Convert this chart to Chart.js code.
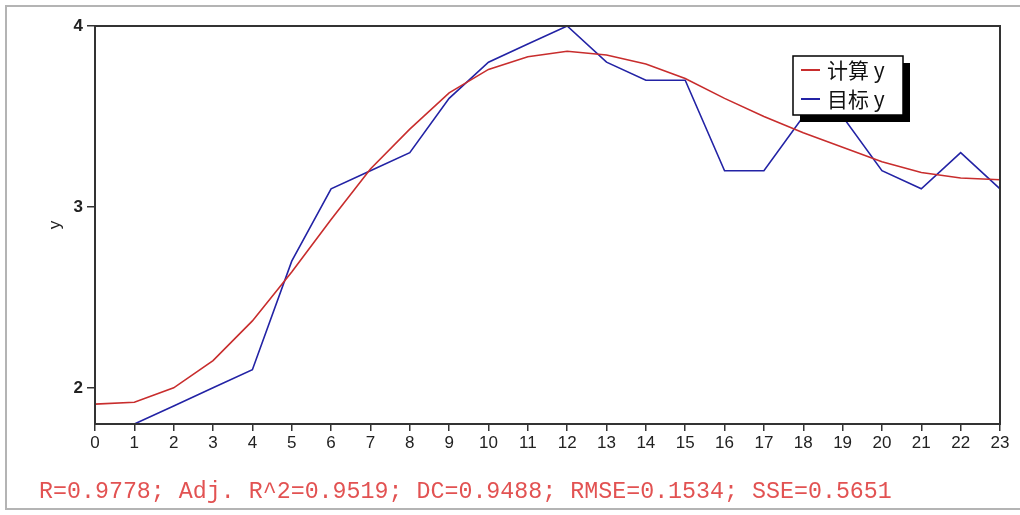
<!DOCTYPE html>
<html>
<head>
<meta charset="utf-8">
<script src="https://cdn.jsdelivr.net/npm/chart.js@4.4.1/dist/chart.umd.min.js"></script>
<style>
	html, body { margin: 0; padding: 0; background: #fff; }
	#wrap { position: relative; width: 1020px; height: 515px; }
	#frame { position: absolute; left: 5px; top: 5px; width: 1030px; height: 505px; border: 2px solid #b4b4b4; box-sizing: border-box; }
	canvas { position: absolute; left: 0; top: 0; }
</style>
</head>
<body>
<div id="wrap">
	<div id="frame"></div>
	<canvas id="c" width="1020" height="515"></canvas>
</div>
<script>
const xLabels = ['0','1','2','3','4','5','6','7','8','9','10','11','12','13','14','15','16','17','18','19','20','21','22','23'];
const calcY = [1.91, 1.92, 2.00, 2.15, 2.37, 2.64, 2.93, 3.21, 3.43, 3.63, 3.76, 3.83, 3.86, 3.84, 3.79, 3.71, 3.60, 3.50, 3.41, 3.33, 3.25, 3.19, 3.16, 3.15];
const targetY = [1.7, 1.8, 1.9, 2.0, 2.1, 2.7, 3.1, 3.2, 3.3, 3.6, 3.8, 3.9, 4.0, 3.8, 3.7, 3.7, 3.2, 3.2, 3.5, 3.5, 3.2, 3.1, 3.3, 3.1];
const yTicks = [2, 3, 4];
const statsText = 'R=0.9778; Adj. R^2=0.9519; DC=0.9488; RMSE=0.1534; SSE=0.5651';

// box round the plot, the boxed legend with its shadow, and the red stats line
const extras = {
	id: 'extras',
	afterDraw (chart)
	{
		const ctx = chart.ctx;
		const a = chart.chartArea;
		ctx.save();
		ctx.strokeStyle = '#333';
		ctx.lineWidth = 2;
		ctx.strokeRect(a.left, a.top, a.right - a.left, a.bottom - a.top);

		// legend
		const bx = 793, by = 56, bw = 110, bh = 59;
		ctx.fillStyle = '#000';
		ctx.fillRect(bx + 7, by + 7, bw, bh);
		ctx.fillStyle = '#fff';
		ctx.fillRect(bx, by, bw, bh);
		ctx.strokeStyle = '#000';
		ctx.lineWidth = 1.5;
		ctx.strokeRect(bx, by, bw, bh);
		ctx.font = '21px "Noto Sans CJK SC"';
		ctx.textBaseline = 'middle';
		chart.data.datasets.forEach((ds, i) => {
			const ry = by + 14 + i * 29;
			ctx.strokeStyle = ds.borderColor;
			ctx.lineWidth = 2;
			ctx.beginPath();
			ctx.moveTo(bx + 8, ry);
			ctx.lineTo(bx + 27, ry);
			ctx.stroke();
			ctx.fillStyle = '#111';
			ctx.fillText(ds.label, bx + 34, ry);
		});

		ctx.font = '23.3px "Liberation Mono"';
		ctx.fillStyle = '#e25252';
		ctx.textBaseline = 'alphabetic';
		ctx.fillText(statsText, 39, 498);
		ctx.restore();
	}
};

const ctx = document.getElementById('c').getContext('2d');
new Chart(ctx, {
	type: 'line',
	data: {
		labels: xLabels,
		datasets: [
			{
				label: '计算 y',
				data: calcY,
				borderColor: 'rgb(200,45,45)',
				borderWidth: 1.6,
				pointRadius: 0,
				tension: 0,
				fill: false
			},
			{
				label: '目标 y',
				data: targetY,
				borderColor: 'rgb(35,35,165)',
				borderWidth: 1.6,
				pointRadius: 0,
				tension: 0,
				fill: false
			}
		]
	},
	options: {
		responsive: false,
		animation: false,
		layout: { padding: { left: 40, top: 26, right: 20, bottom: 0 } },
		plugins: {
			legend: { display: false },
			tooltip: { enabled: false }
		},
		scales: {
			x: {
				offset: false,
				grid: { drawOnChartArea: false, drawTicks: true, tickLength: 7, color: '#333', lineWidth: 1.5 },
				border: { display: true, color: '#333', width: 2 },
				ticks: { color: '#222', font: { family: 'Liberation Sans', size: 17 }, padding: 2, maxRotation: 0, autoSkip: false },
				afterFit (scale) { scale.height = 91; }
			},
			y: {
				min: 1.8,
				max: 4,
				afterBuildTicks (scale) { scale.ticks = yTicks.map(v => ({ value: v })); },
				grid: { drawOnChartArea: false, drawTicks: true, tickLength: 8, color: '#333', lineWidth: 1.5 },
				border: { display: true, color: '#333', width: 2 },
				ticks: { color: '#222', font: { family: 'Liberation Sans', size: 17, weight: 'bold' }, padding: 4 },
				title: { display: true, text: 'y', color: '#222', font: { family: 'Liberation Sans', size: 17 }, padding: 5 },
				afterFit (scale) { scale.width = 55; }
			}
		}
	},
	plugins: [extras]
});
</script>
</body>
</html>
